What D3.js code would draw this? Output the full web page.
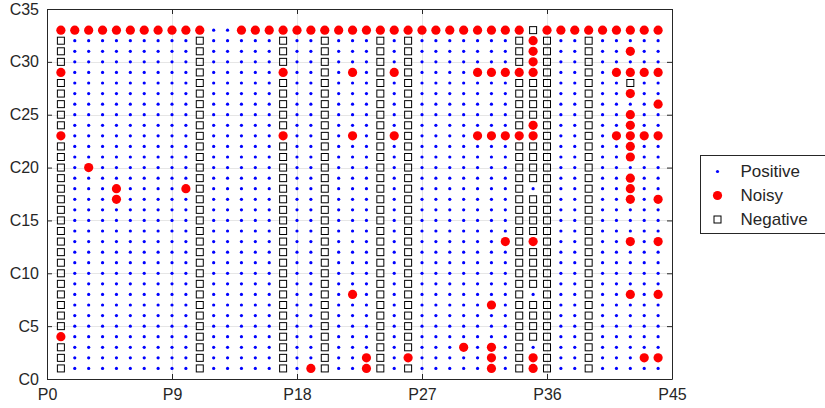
<!DOCTYPE html>
<html>
<head>
<meta charset="utf-8">
<script src="https://cdn.jsdelivr.net/npm/d3@7"></script>
<style>
  body { margin: 0; background: #fff; }
  svg text { font-family: "Liberation Sans", Arial, sans-serif; fill: #262626; }
</style>
</head>
<body>
<svg id="chart" width="825" height="408"></svg>
<script>
// grid of samples
const cols = d3.range(1, 45);
const rows = d3.range(1, 34);

// columns that are negative (squares)
const negativeCols = [1, 11, 17, 20, 24, 26, 34, 35, 36, 39];
// single cells that break the column rule
const extraNegative = [[42, 28], [35, 33]];
const extraPositive = [[35, 18], [35, 8], [35, 3], [12, 33], [13, 33]];

// noisy points, per row: [row, [columns]]
const noisyRows = [
  [33, [1,2,3,4,5,6,7,8,9,10,11,14,15,16,17,18,19,20,21,22,23,24,25,26,27,28,29,30,31,32,33,34,36,37,38,39,40,41,42,43,44]],
  [32, [35]],
  [31, [35, 42]],
  [30, [35]],
  [29, [1, 17, 22, 25, 31, 32, 33, 34, 35, 41, 42, 43, 44]],
  [27, [42]],
  [26, [44]],
  [25, [42]],
  [24, [35, 42]],
  [23, [1, 17, 22, 25, 31, 32, 33, 34, 35, 41, 42, 43, 44]],
  [22, [42]],
  [21, [42]],
  [20, [3]],
  [19, [42]],
  [18, [5, 10, 42]],
  [17, [5, 42, 44]],
  [13, [33, 35, 42, 44]],
  [8, [22, 42, 44]],
  [7, [32]],
  [4, [1]],
  [3, [30, 32]],
  [2, [23, 26, 32, 35, 43, 44]],
  [1, [19, 23, 32, 35]]
];

const xTicks = [0, 9, 18, 27, 36, 45];
const yTicks = [0, 5, 10, 15, 20, 25, 30, 35];
const legendNames = ["Positive", "Noisy", "Negative"];

// build the labelled cells
const key = (x, y) => x + "," + y;
const noisySet = new Set();
noisyRows.forEach(([r, xs]) => xs.forEach(x => noisySet.add(key(x, r))));
const negSet = new Set(extraNegative.map(d => key(d[0], d[1])));
const posSet = new Set(extraPositive.map(d => key(d[0], d[1])));

const cells = [];
rows.forEach(y => cols.forEach(x => {
  const k = key(x, y);
  let cls;
  if (noisySet.has(k)) cls = "Noisy";
  else if (posSet.has(k)) cls = "Positive";
  else if (negSet.has(k) || negativeCols.includes(x)) cls = "Negative";
  else cls = "Positive";
  cells.push({ x, y, cls });
}));

const svg = d3.select("#chart");
const m = { left: 47, top: 9, right: 153, bottom: 29 };
const W = 825 - m.left - m.right, H = 408 - m.top - m.bottom;

const x = d3.scaleLinear().domain([0, 45]).range([m.left, m.left + W]);
const y = d3.scaleLinear().domain([0, 35]).range([m.top + H, m.top]);

// grid
const grid = svg.append("g").attr("stroke", "#e6e6e6").attr("stroke-width", 1);
grid.selectAll(".gx").data(xTicks.slice(1, -1)).enter().append("line")
  .attr("x1", d => Math.round(x(d)) + 0.5).attr("x2", d => Math.round(x(d)) + 0.5)
  .attr("y1", m.top).attr("y2", m.top + H);
grid.selectAll(".gy").data(yTicks.slice(1, -1)).enter().append("line")
  .attr("y1", d => Math.round(y(d)) + 0.5).attr("y2", d => Math.round(y(d)) + 0.5)
  .attr("x1", m.left).attr("x2", m.left + W);

// marks
const plot = svg.append("g");
plot.selectAll(".pos").data(cells.filter(d => d.cls === "Positive")).enter()
  .append("circle").attr("class", "pos")
  .attr("cx", d => x(d.x)).attr("cy", d => y(d.y)).attr("r", 1.6)
  .attr("fill", "#0000ff");
plot.selectAll(".noisy").data(cells.filter(d => d.cls === "Noisy")).enter()
  .append("circle").attr("class", "noisy")
  .attr("cx", d => x(d.x)).attr("cy", d => y(d.y)).attr("r", 4.6)
  .attr("fill", "#ff0000");
plot.selectAll(".neg").data(cells.filter(d => d.cls === "Negative")).enter()
  .append("rect").attr("class", "neg")
  .attr("x", d => x(d.x) - 3.5).attr("y", d => y(d.y) - 3.5)
  .attr("width", 7).attr("height", 7)
  .attr("fill", "none").attr("stroke", "#000").attr("stroke-width", 1);

// axes: box with ticks inside on all sides
const tick = 5;
svg.append("g").attr("transform", `translate(0,${m.top + H})`)
  .call(d3.axisBottom(x).tickValues(xTicks).tickSizeInner(-tick).tickSizeOuter(0)
    .tickPadding(10).tickFormat(d => "P" + d));
svg.append("g").attr("transform", `translate(${m.left},0)`)
  .call(d3.axisLeft(y).tickValues(yTicks).tickSizeInner(-tick).tickSizeOuter(0)
    .tickPadding(8).tickFormat(d => "C" + d));
svg.append("g").attr("transform", `translate(0,${m.top})`)
  .call(d3.axisTop(x).tickValues(xTicks).tickSizeInner(-tick).tickSizeOuter(0).tickFormat(""));
svg.append("g").attr("transform", `translate(${m.left + W},0)`)
  .call(d3.axisRight(y).tickValues(yTicks).tickSizeInner(-tick).tickSizeOuter(0).tickFormat(""));
svg.selectAll(".domain, .tick line").attr("stroke", "#262626");
svg.selectAll(".tick text").attr("font-size", 16).attr("fill", "#262626");

// legend (runs past the right edge, as in the source)
const lg = svg.append("g").attr("transform", "translate(700.5,155.5)");
lg.append("rect").attr("width", 140).attr("height", 78)
  .attr("fill", "#fff").attr("stroke", "#262626");
const item = lg.selectAll(".item").data(legendNames).enter().append("g")
  .attr("transform", (d, i) => `translate(0,${16 + i * 24})`);
item.append("text").attr("x", 40).attr("y", 0).attr("dy", "0.35em")
  .attr("font-size", 17).text(d => d);
item.filter(d => d === "Positive").append("circle")
  .attr("cx", 17).attr("r", 1.6).attr("fill", "#0000ff");
item.filter(d => d === "Noisy").append("circle")
  .attr("cx", 17).attr("r", 4.6).attr("fill", "#ff0000");
item.filter(d => d === "Negative").append("rect")
  .attr("x", 13.5).attr("y", -3.5).attr("width", 7).attr("height", 7)
  .attr("fill", "none").attr("stroke", "#000");
</script>
</body>
</html>
